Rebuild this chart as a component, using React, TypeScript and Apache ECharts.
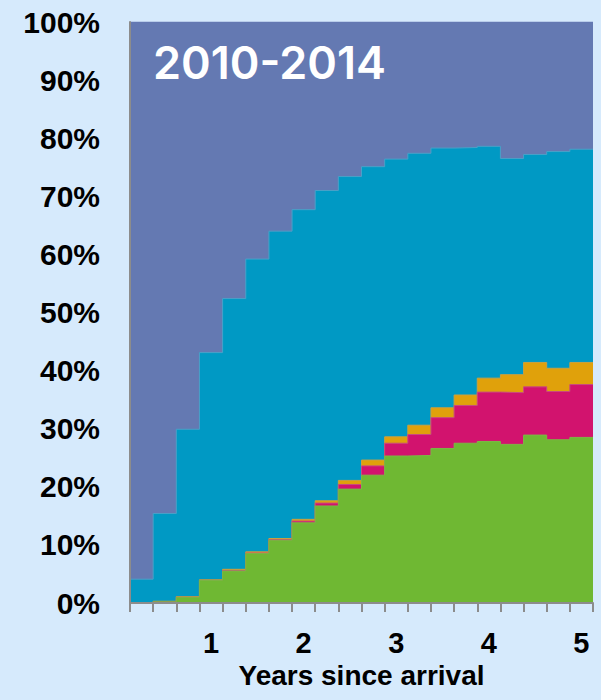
import React, { useEffect, useRef } from "react";
import * as echarts from "echarts";

// 20 quarterly bins, year labels under the 4th quarter of each year
const binLabels = ["", "", "", "1", "", "", "", "2", "", "", "", "3", "", "", "", "4", "", "", "", "5"];

// shares (%) per bin, bottom to top (the remaining share up to 100% is the purple layer)
const green = [0, 0.2, 1.0, 3.9, 5.5, 8.5, 10.8, 13.8, 16.7, 19.6, 22.0, 25.3, 25.4, 26.6, 27.5, 27.8, 27.3, 28.9, 28.1, 28.5];
const pink = [0, 0, 0, 0, 0.1, 0.1, 0.1, 0.3, 0.5, 0.8, 1.6, 2.2, 3.6, 5.3, 6.5, 8.5, 8.9, 8.3, 8.3, 9.1];
const orange = [0, 0.1, 0.1, 0.1, 0.2, 0.2, 0.2, 0.3, 0.4, 0.7, 1.0, 1.1, 1.6, 1.7, 1.8, 2.4, 3.1, 4.2, 4.0, 3.8];
const teal = [4.1, 15.1, 28.8, 39.1, 46.6, 50.4, 52.9, 53.3, 53.4, 52.3, 50.5, 47.8, 46.8, 44.7, 42.6, 39.9, 37.2, 35.8, 37.3, 36.7];
const purple = [95.9, 84.6, 70.1, 56.9, 47.6, 40.8, 36.0, 32.3, 29.0, 26.6, 24.9, 23.6, 22.6, 21.7, 21.6, 21.4, 23.5, 22.8, 22.3, 21.9];

const titleText = "2010-2014";
const xAxisTitle = "Years since arrival";

const FONT = "'Liberation Sans', Arial, sans-serif";

export default function App() {
  const ref = useRef<HTMLDivElement>(null);
  useEffect(() => {
    if (!ref.current) return;
    const chart = echarts.init(ref.current, null, { renderer: "svg" });
    const layers = [green, pink, orange, teal, purple];
    // cumulative tops of each layer
    const tops = layers.map((_, li) =>
      green.map((_, i) => layers.slice(0, li + 1).reduce((s, arr) => s + arr[i], 0))
    );
    const toSteps = (vals: number[]) => {
      const pts = vals.map((v, i) => [i, v]);
      pts.push([vals.length, vals[vals.length - 1]]);
      return pts;
    };
    const mk = (name: string, data: number[], color: string, edge: string, z: number) => ({
      name,
      type: "line",
      xAxisIndex: 1,
      step: "end",
      symbol: "none",
      data: toSteps(data),
      lineStyle: { color: edge, width: 1 },
      areaStyle: { color, opacity: 1, origin: "start" },
      emphasis: { disabled: true },
      silent: true,
      z,
    });
    chart.setOption({
      animation: false,
      backgroundColor: "#d6eafc",
      title: {
        text: titleText,
        left: 148,
        top: 35,
        z: 10,
        textStyle: { color: "#ffffff", fontSize: 45, fontWeight: 600, fontFamily: "Inter, 'Open Sans', sans-serif" },
      },
      grid: { left: 130, right: 8, top: 22, bottom: 97, containLabel: false },
      xAxis: [
        {
          type: "category",
          data: binLabels,
          boundaryGap: true,
          axisLine: { show: true, lineStyle: { color: "#8c8c8c", width: 2 } },
          axisTick: { show: true, length: 9, lineStyle: { color: "#8c8c8c", width: 2 }, interval: 0 },
          axisLabel: { interval: 0, color: "#000", fontSize: 29, fontWeight: "bold", fontFamily: FONT, margin: 25 },
          name: xAxisTitle,
          nameLocation: "middle",
          nameGap: 55,
          nameTextStyle: { color: "#000", fontSize: 28, fontWeight: "bold", fontFamily: FONT },
          z: 8,
        },
        { type: "value", min: 0, max: binLabels.length, show: false },
      ],
      yAxis: {
        type: "value",
        min: 0,
        max: 100,
        interval: 10,
        axisLine: { show: true, lineStyle: { color: "#8c8c8c", width: 2 } },
        axisTick: { show: false },
        splitLine: { show: false },
        axisLabel: { formatter: "{value}%", color: "#000", fontSize: 30, fontWeight: "bold", fontFamily: FONT, margin: 30 },
        z: 8,
      },
      series: [
        mk("purple", tops[4], "#6479b2", "#6479b2", 1),
        mk("teal", tops[3], "#0099c4", "#4aa0c8", 2),
        mk("orange", tops[2], "#e0a10b", "#c9a040", 3),
        mk("pink", tops[1], "#d2136e", "#c94a7e", 4),
        mk("green", tops[0], "#6fb833", "#7bb845", 5),
      ],
    });
    return () => chart.dispose();
  }, []);
  return (
    <div
      ref={ref}
      style={{ position: "absolute", left: 0, top: 0, width: 601, height: 700, background: "#d6eafc" }}
    />
  );
}
